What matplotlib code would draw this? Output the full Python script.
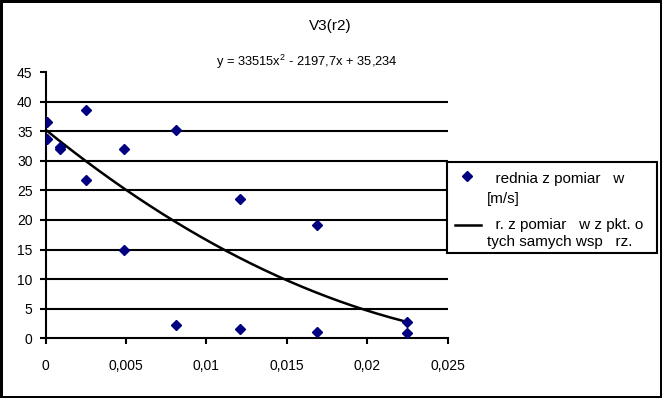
import matplotlib.pyplot as plt
from matplotlib.lines import Line2D
from matplotlib.patches import Rectangle
import numpy as np

plt.rcParams['font.family'] = ['Liberation Sans', 'DejaVu Sans']
plt.rcParams['mathtext.fontset'] = 'custom'
plt.rcParams['mathtext.rm'] = 'Liberation Sans'
plt.rcParams['mathtext.it'] = 'Liberation Sans'

# punkty pomiarowe (r^2, V)
r2 = [0.0001, 0.0001, 0.0009, 0.0009, 0.0025, 0.0025, 0.0049, 0.0049,
      0.0081, 0.0081, 0.0121, 0.0121, 0.0169, 0.0169, 0.0225, 0.0225]
v = [36.6, 33.7, 32.4, 32.0, 38.5, 26.7, 32.0, 15.0,
     35.2, 2.2, 23.6, 1.5, 19.1, 1.1, 2.7, 0.9]

# linia trendu z równania na wykresie
trend_coef = [33515, -2197.7, 35.234]
trend_range = [0, 0.0225]

x_ticks = [0, 0.005, 0.01, 0.015, 0.02, 0.025]
x_labels = ['0', '0,005', '0,01', '0,015', '0,02', '0,025']
y_ticks = [0, 5, 10, 15, 20, 25, 30, 35, 40, 45]
legend_lines = [['  rednia z pomiar   w', '[m/s]'],
                ['  r. z pomiar   w z pkt. o', 'tych samych wsp   rz.']]

W, H = 662, 398
fig = plt.figure(figsize=(W / 100, H / 100), dpi=100)
fig.patch.set_edgecolor('black')
fig.patch.set_linewidth(2.5)
ax = fig.add_axes([0.069, 0.15, 0.607, 0.669])

# siatka pozioma
for y in y_ticks[1:-1]:
    ax.axhline(y, color='black', linewidth=1.5, zorder=1)

ax.plot(r2, v, linestyle='none', marker='D', markersize=4.8, color='#000080', zorder=3)
xt = np.linspace(trend_range[0], trend_range[1], 200)
ax.plot(xt, np.polyval(trend_coef, xt), color='black', linewidth=1.8, zorder=2)

ax.set_xlim(0, 0.025)
ax.set_ylim(0, 45)
ax.set_xticks(x_ticks)
ax.set_xticklabels(x_labels)
ax.set_yticks(y_ticks)
ax.spines['top'].set_visible(False)
ax.spines['right'].set_visible(False)
ax.spines['left'].set_linewidth(1.5)
ax.spines['bottom'].set_linewidth(1.5)
ax.tick_params(axis='x', length=4, width=1.5, pad=11, labelsize=10)
ax.tick_params(axis='y', length=4.5, width=1.5, pad=5, labelsize=10)

fig.text(0.4995, 0.934, 'V3(r2)', ha='center', va='center', fontsize=11)
fig.text(0.463, 0.845, r'y = 33515x$^{2}$ - 2197,7x + 35,234', ha='center', va='center', fontsize=9.3)


# legenda rysowana recznie (piksele od gory)
def fx(px):
    return px / W


def fy(py):
    return 1 - py / H


fig.add_artist(Rectangle((fx(447), fy(253)), fx(657) - fx(447), fy(162) - fy(253),
                         transform=fig.transFigure, facecolor='white',
                         edgecolor='black', linewidth=1.5))
fig.add_artist(Line2D([fx(467)], [fy(176)], transform=fig.transFigure, linestyle='none',
                      marker='D', markersize=4.8, color='#000080'))
fig.add_artist(Line2D([fx(455), fx(481)], [fy(225), fy(225)], transform=fig.transFigure,
                      color='black', linewidth=1.8))
baselines = [[183, 203], [229, 246]]
for lines, bases in zip(legend_lines, baselines):
    for txt, b in zip(lines, bases):
        fig.text(fx(487), fy(b), txt, ha='left', va='baseline', fontsize=11)

fig.savefig('out.png', dpi=100)
